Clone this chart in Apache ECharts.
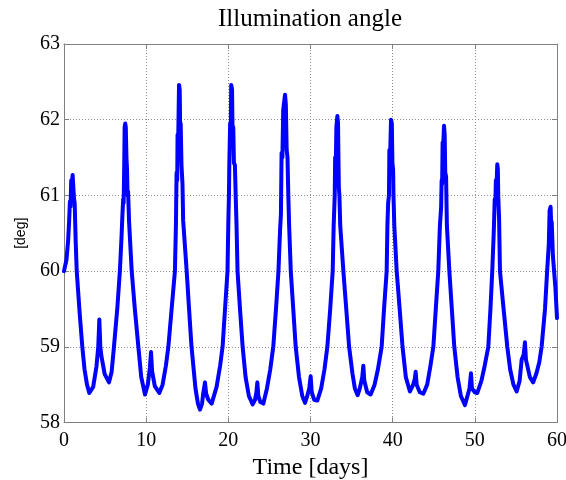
<!DOCTYPE html>
<html>
<head>
<meta charset="utf-8">
<script src="https://cdn.jsdelivr.net/npm/echarts@6/dist/echarts.min.js"></script>
<style>html,body{margin:0;padding:0;background:#fff;}#c{width:566px;height:480px;}</style>
</head>
<body>
<div id="c"></div>
<script>
// Time [days]
var timeDays = [0,0.3,0.5,0.62,0.72,0.8,0.88,0.96,1.05,1.15,1.22,1.3,1.42,1.55,1.9,2.23,2.5,2.8,3.08,3.55,3.95,4.17,4.3,4.42,4.55,4.95,5.48,5.8,6.08,6.49,6.8,7.0,7.1,7.2,7.26,7.33,7.38,7.45,7.52,7.6,7.67,7.74,7.8,7.92,8.24,8.62,9.05,9.4,9.86,10.2,10.45,10.59,10.72,11.05,11.6,12.0,12.4,12.7,13.1,13.5,13.62,13.7,13.78,13.82,13.9,14.0,14.08,14.14,14.2,14.3,14.42,14.5,14.93,15.22,15.52,16.0,16.3,16.55,16.8,16.95,17.16,17.3,17.56,17.97,18.57,19.0,19.3,19.6,19.9,20.0,20.08,20.12,20.18,20.22,20.3,20.35,20.45,20.52,20.6,20.68,20.8,20.92,21.0,21.12,21.42,21.74,22.1,22.5,22.96,23.25,23.42,23.53,23.65,23.9,24.26,24.7,25.1,25.47,25.8,26.1,26.3,26.4,26.48,26.58,26.68,26.9,27.0,27.1,27.2,27.3,27.4,27.6,27.9,28.2,28.6,29.0,29.33,29.6,29.85,30.02,30.15,30.45,30.83,31.3,31.7,32.05,32.4,32.7,32.82,32.95,33.0,33.08,33.15,33.27,33.35,33.4,33.45,33.52,33.62,34.0,34.35,34.7,35.1,35.4,35.74,36.0,36.3,36.43,36.55,36.9,37.32,37.8,38.2,38.66,38.95,39.27,39.36,39.45,39.55,39.6,39.7,39.8,39.9,39.97,40.05,40.1,40.2,40.49,40.85,41.2,41.6,42.1,42.5,42.7,42.8,42.92,43.3,43.73,44.2,44.6,44.95,45.25,45.55,45.75,45.9,45.96,46.02,46.08,46.15,46.25,46.33,46.4,46.5,46.6,46.9,47.2,47.5,47.9,48.3,48.8,49.1,49.35,49.53,49.65,50.0,50.3,50.8,51.2,51.64,51.9,52.12,52.3,52.42,52.5,52.56,52.65,52.73,52.8,52.85,52.95,53.06,53.5,53.95,54.3,54.7,55.09,55.45,55.7,55.95,56.1,56.22,56.7,57.1,57.5,57.85,58.13,58.54,58.8,59.0,59.1,59.22,59.3,59.36,59.5,59.8,60.0];
// Illumination angle [deg]
var angleDeg = [60.0,60.15,60.4,60.65,60.92,60.85,61.2,61.15,61.27,61.25,60.95,60.9,60.4,60.0,59.45,59.0,58.7,58.5,58.39,58.47,58.74,59.0,59.36,59.0,58.88,58.64,58.53,58.67,59.0,59.51,60.0,60.45,60.72,60.95,60.9,61.4,61.9,61.95,61.9,61.5,61.35,61.0,61.05,60.65,60.0,59.5,59.0,58.6,58.37,58.5,58.72,58.93,58.68,58.48,58.39,58.5,58.75,59.0,59.5,60.0,60.6,61.3,61.2,61.8,61.75,62.46,62.4,61.9,61.95,61.4,61.15,60.67,60.0,59.5,59.0,58.45,58.25,58.17,58.25,58.39,58.53,58.38,58.3,58.25,58.47,58.75,59.0,59.5,60.0,60.65,61.03,61.42,61.4,61.95,61.9,62.46,62.4,61.8,61.9,61.43,61.4,60.9,60.6,60.0,59.5,59.0,58.6,58.35,58.24,58.3,58.4,58.53,58.35,58.27,58.25,58.45,58.7,59.0,59.5,60.0,60.55,60.75,61.56,61.5,62.13,62.33,62.2,61.6,61.5,61.0,60.6,60.0,59.5,59.0,58.6,58.35,58.26,58.35,58.45,58.61,58.4,58.3,58.29,58.45,58.7,59.0,59.5,60.0,60.6,61.0,61.5,61.4,61.9,62.05,61.95,61.5,61.1,61.0,60.6,60.0,59.5,59.0,58.65,58.45,58.36,58.45,58.6,58.75,58.55,58.4,58.37,58.5,58.7,59.0,59.5,60.0,60.6,60.9,61.0,61.6,61.55,62.0,61.95,61.42,61.35,61.0,60.6,60.0,59.5,59.0,58.6,58.41,58.5,58.58,58.67,58.5,58.4,58.38,58.5,58.75,59.0,59.5,60.0,60.6,60.85,61.2,61.15,61.7,61.65,61.92,61.8,61.3,61.25,60.6,60.0,59.5,59.0,58.6,58.35,58.23,58.35,58.45,58.65,58.45,58.4,58.39,58.55,58.75,59.0,59.5,60.0,60.5,60.95,60.9,61.2,61.15,61.41,61.35,61.0,60.7,60.0,59.5,59.0,58.7,58.5,58.41,58.55,58.83,58.9,59.06,58.83,58.6,58.53,58.65,58.8,59.0,59.5,60.0,60.35,60.8,60.85,60.6,60.65,60.2,59.79,59.38];
var xTicks = [0,10,20,30,40,50,60];
var yTicks = [58,59,60,61,62,63];

var seriesData = timeDays.map(function(t,i){return [t, angleDeg[i]];});
var serif = '"Liberation Serif","Times New Roman",serif';
var gridLine = {show:true, lineStyle:{color:'#8c8c8c', type:[1,2], width:1}};
var axLine = {show:true, onZero:false, lineStyle:{color:'#808080', width:1}};
var axTick = {show:true, inside:true, length:5, lineStyle:{color:'#808080'}};

var chart = echarts.init(document.getElementById('c'), null, {renderer:'canvas'});
chart.setOption({
  animation:false,
  backgroundColor:'#ffffff',
  graphic:[{type:'text', x:310, y:19, style:{text:'Illumination angle', font:'25px '+serif, fill:'#000', align:'center', verticalAlign:'middle'}}],
  grid:{left:64, right:9, top:44, bottom:57.5, containLabel:false, outerBoundsMode:'none'},
  xAxis:[{type:'value', min:xTicks[0], max:xTicks[xTicks.length-1], interval:10, position:'bottom',
      axisLine:axLine, axisTick:axTick, splitLine:gridLine,
      axisLabel:{fontFamily:serif, fontSize:20, color:'#000', margin:8},
      name:'Time [days]', nameLocation:'middle', nameGap:30, nameTextStyle:{fontFamily:serif, fontSize:24, color:'#000'}},
    {type:'value', min:0, max:60, interval:10, position:'top', axisLine:axLine, axisTick:axTick, axisLabel:{show:false}, splitLine:{show:false}}],
  yAxis:[{type:'value', min:yTicks[0], max:yTicks[yTicks.length-1], interval:1, position:'left',
      axisLine:axLine, axisTick:axTick, splitLine:gridLine,
      axisLabel:{fontFamily:serif, fontSize:20, color:'#000', margin:4},
      name:'[deg]', nameLocation:'middle', nameGap:36, nameRotate:90, nameTextStyle:{fontFamily:'"Liberation Sans",Arial,sans-serif', fontSize:14, color:'#000'}},
    {type:'value', min:58, max:63, interval:1, position:'right', axisLine:axLine, axisTick:axTick, axisLabel:{show:false}, splitLine:{show:false}}],
  series:[{type:'line', data:seriesData, showSymbol:false, symbol:'none', smooth:false,
    lineStyle:{color:'#0000ff', width:4, join:'round', cap:'round'}, clip:true}]
});
</script>
</body>
</html>
